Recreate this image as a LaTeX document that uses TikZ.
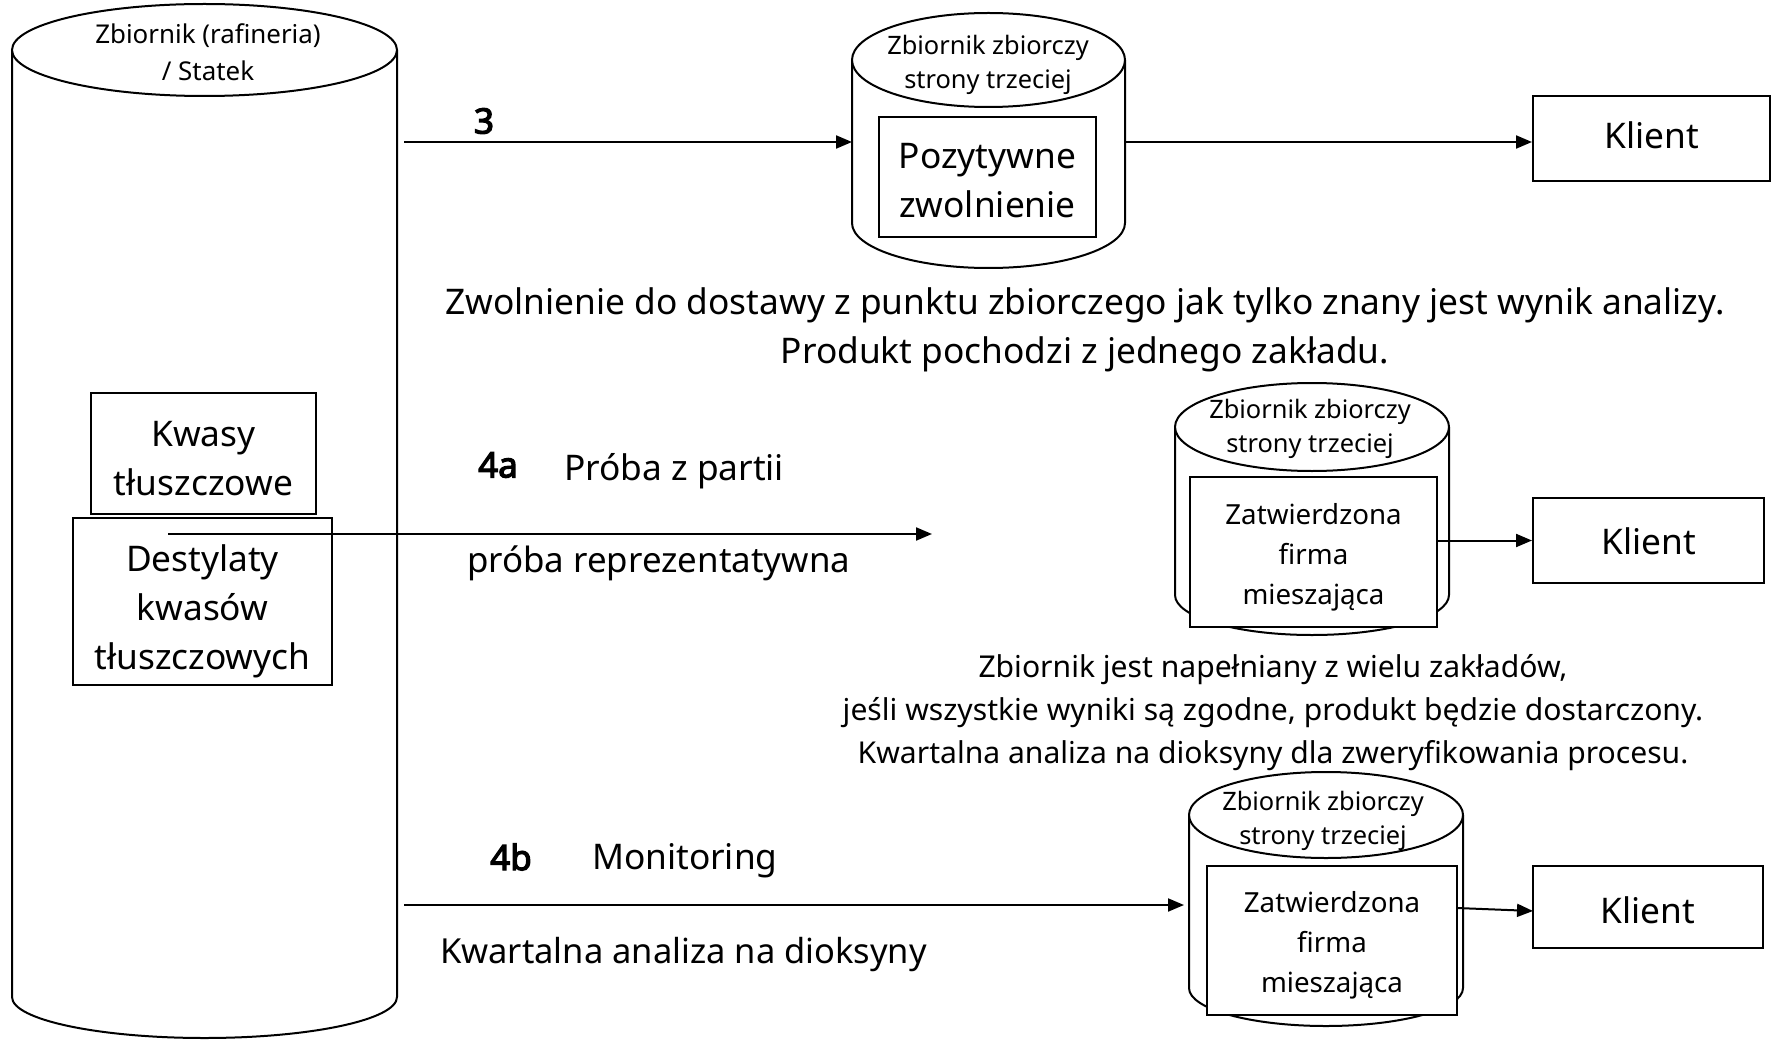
\documentclass[tikz,border=0pt]{standalone}
\usepackage{fontspec}
\setmainfont{Noto Sans}
\newfontfamily\numfont{Noto Sans}[FakeBold=3.5]
\usetikzlibrary{arrows.meta}
\newcommand{\fs}[2]{\fontsize{#1}{#2}\selectfont}
\begin{document}
\begin{tikzpicture}[x=1pt,y=-1pt,line width=2pt,
  arr/.style={-{Triangle[length=16pt,width=13pt]}},
  box/.style={draw,fill=white,rectangle,inner sep=0pt,align=center},
  txt/.style={inner sep=0pt,align=center},
  bigf/.style={font=\fs{35.3}{49}},
  capf/.style={font=\fs{25.4}{34}},
  midf/.style={font=\fs{27.7}{40}},
  notef/.style={font=\fs{30.1}{43}},
  numf/.style={font=\numfont\fs{35}{40}},
]
\useasboundingbox[fill=white] (0,0) rectangle (1776,1040);

% big cylinder
\draw[fill=white] (12,50) -- (12,997) arc[start angle=180,end angle=0,x radius=192.5,y radius=41] -- (397,50);
\draw[fill=white] (204.5,50) ellipse[x radius=192.5,y radius=46];
\node[txt,font=\fs{25.9}{37}] (tank) at (208,52) {Zbiornik (rafineria)\\/ Statek};

% cylinder 2
\draw[fill=white] (852,60) -- (852,223) arc[start angle=180,end angle=0,x radius=136.5,y radius=45] -- (1125,60);
\draw[fill=white] (988.5,60) ellipse[x radius=136.5,y radius=47];
\node[txt,capf] (c2lab) at (988,64.5) {Zbiornik zbiorczy\\strony trzeciej};
\node[box,minimum width=217,minimum height=120] (poz) at (987.5,177) {};
\node[txt,bigf] (pozt) at (987.5,181) {Pozytywne\\zwolnienie};

% cylinder 3
\draw[fill=white] (1175,427) -- (1175,595) arc[start angle=180,end angle=0,x radius=137,y radius=40] -- (1449,427);
\draw[fill=white] (1312,427) ellipse[x radius=137,y radius=44];
\node[txt,capf] (c3lab) at (1310,428.5) {Zbiornik zbiorczy\\strony trzeciej};
\node[box,minimum width=247,minimum height=150] (z3) at (1313.5,552) {};
\node[txt,midf] (z3t) at (1313.5,557) {Zatwierdzona\\firma\\mieszająca};

% cylinder 4
\draw[fill=white] (1189,815) -- (1189,988) arc[start angle=180,end angle=0,x radius=137,y radius=38] -- (1463,815);
\draw[fill=white] (1326,815) ellipse[x radius=137,y radius=43];
\node[txt,capf] (c4lab) at (1323,821) {Zbiornik zbiorczy\\strony trzeciej};
\node[box,minimum width=250,minimum height=149] (z4) at (1332,940.5) {};
\node[txt,midf] (z4t) at (1332,945) {Zatwierdzona\\firma\\mieszająca};

% Klient boxes
\node[box,minimum width=237,minimum height=85] (k1) at (1651.5,138.5) {};
\node[txt,bigf] (k1t) at (1651.5,135.5) {Klient};
\node[box,minimum width=231,minimum height=85] (k2) at (1648.5,540.5) {};
\node[txt,bigf] (k2t) at (1648.5,541.5) {Klient};
\node[box,minimum width=230,minimum height=82] (k3) at (1648,907) {};
\node[txt,bigf] (k3t) at (1648,910) {Klient};

% product boxes
\node[box,minimum width=225,minimum height=121] (kwasy) at (203.5,453.5) {};
\node[txt,bigf] (kwasyt) at (203.5,458.5) {Kwasy\\tłuszczowe};
\node[box,minimum width=259,minimum height=167] (dest) at (202.5,601.5) {};
\node[txt,bigf] (destt) at (202.5,611) {Destylaty\\kwasów\\tłuszczowych};

% connector anchor points
\coordinate (s3) at (404,142);
\coordinate (c2in) at (852,142);
\coordinate (c2out) at (1125,142);
\coordinate (s4a) at (168,534);
\coordinate (e4a) at (932,534);
\coordinate (s4b) at (404,905);
\coordinate (e4b) at (1184,905);
\coordinate (z4out) at (1457,908);
\coordinate (k3in) at (1533,911);

% connectors
\draw[arr] (s3) -- (c2in);
\draw[arr] (c2out) -- (c2out -| k1.west);
\draw[arr] (s4a) -- (e4a);
\draw[arr] (z3.east |- k2.west) -- (k2.west);
\draw[arr] (s4b) -- (e4b);
\draw[arr] (z4out) -- (k3in);

% labels
\node[txt,numf] (l3) at (484,121) {3};
\node[txt,bigf] (note3) at (1085,329.5) {Zwolnienie do dostawy z punktu zbiorczego jak tylko znany jest wynik analizy.\\Produkt pochodzi z jednego zakładu.};
\node[txt,numf] (l4a) at (498,465) {4a};
\node[txt,bigf,anchor=west] (proba) at (563,471) {Próba z partii};
\node[txt,font=\fs{34.9}{49},anchor=west] (repr) at (466,563) {próba reprezentatywna};
\node[txt,notef] (note4a) at (1273,712.5) {Zbiornik jest napełniany z wielu zakładów,\\jeśli wszystkie wyniki są zgodne, produkt będzie dostarczony.\\Kwartalna analiza na dioksyny dla zweryfikowania procesu.};
\node[txt,numf] (l4b) at (511,857) {4b};
\node[txt,bigf,anchor=west] (mon) at (591,860.5) {Monitoring};
\node[txt,font=\fs{34.5}{49},anchor=west] (kw) at (439,954.5) {Kwartalna analiza na dioksyny};
\end{tikzpicture}
\end{document}
